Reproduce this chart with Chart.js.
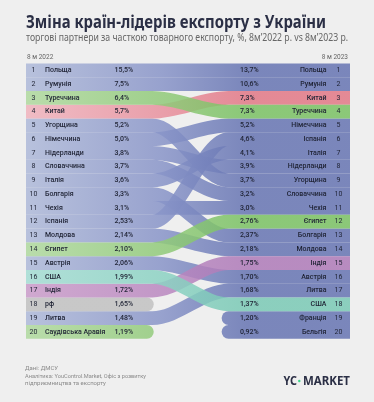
<!DOCTYPE html>
<html>
<head>
<meta charset="utf-8">
<script src="https://cdn.jsdelivr.net/npm/chart.js@4"></script>
<style>
html,body{margin:0;padding:0;background:#efefef;}
#wrap{width:374px;height:402px;}
</style>
</head>
<body>
<div id="wrap"><canvas id="c" width="374" height="402"></canvas></div>
<script>
// ---- data ----
const categories2022 = ['Польща','Румунія','Туреччина','Китай','Угорщина','Німеччина','Нідерланди','Словаччина','Італія','Болгарія','Чехія','Іспанія','Молдова','Єгипет','Австрія','США','Індія','рф','Литва','Саудівська Аравія'];
const values2022 = [15.5,7.5,6.4,5.7,5.2,5.0,3.8,3.7,3.6,3.3,3.1,2.53,2.14,2.10,2.06,1.99,1.72,1.65,1.48,1.19];
const categories2023 = ['Польща','Румунія','Китай','Туреччина','Німеччина','Іспанія','Італія','Нідерланди','Угорщина','Словаччина','Чехія','Єгипет','Болгарія','Молдова','Індія','Австрія','Литва','США','Франція','Бельгія'];
const values2023 = [13.7,10.6,7.3,7.3,5.2,4.6,4.1,3.9,3.7,3.2,3.0,2.76,2.37,2.18,1.75,1.70,1.68,1.37,1.20,0.92];
const periodLabels = ['8 м 2022','8 м 2023'];
const highlightGroups = {'Туреччина':'green','Єгипет':'green','Саудівська Аравія':'green','Китай':'red','США':'teal','Індія':'purple','рф':'grey'};

// ---- styles ----
const palette = {
  blue:   ['rgba(174,185,217,0.85)','rgba(136,148,200,0.85)','rgba(102,116,178,0.85)'],
  green:  ['rgba(176,217,159,0.85)','rgba(145,202,122,0.85)','rgba(122,193,99,0.85)'],
  red:    ['rgba(240,179,189,0.85)','rgba(232,145,158,0.85)','rgba(226,120,134,0.85)'],
  teal:   ['rgba(165,221,212,0.85)','rgba(140,210,195,0.85)','rgba(122,201,181,0.85)'],
  purple: ['rgba(202,156,202,0.85)','rgba(186,136,192,0.85)','rgba(174,122,184,0.85)'],
  grey:   ['rgba(193,193,193,0.85)','rgba(193,193,193,0.85)','rgba(193,193,193,0.85)']
};
const X1 = 0.39, X2 = 0.625, STUB_L = 0.373, STUB_R = 0.625;

function grad(chart, stops){
  const a = chart.chartArea;
  if(!a) return stops[2];
  const g = chart.ctx.createLinearGradient(a.left,0,a.right,0);
  g.addColorStop(0, stops[0]);
  g.addColorStop(0.42, stops[1]);
  g.addColorStop(0.68, stops[2]);
  g.addColorStop(1, stops[2]);
  return g;
}
function fmt(v){ return (v >= 3 ? v.toFixed(1) : v.toFixed(2)).replace('.', ',') + '%'; }

const countries = [...categories2022];
categories2023.forEach(c => { if(!countries.includes(c)) countries.push(c); });

const datasets = countries.map(c => {
  const r22 = categories2022.indexOf(c) + 1;
  const r23 = categories2023.indexOf(c) + 1;
  let data, cap = 'butt';
  if(r22 && r23) data = [{x:0,y:r22},{x:X1,y:r22},{x:X2,y:r23},{x:1,y:r23}];
  else if(r22){ data = [{x:0,y:r22},{x:STUB_L,y:r22}]; cap = 'round'; }
  else { data = [{x:STUB_R,y:r23},{x:1,y:r23}]; cap = 'round'; }
  const grp = highlightGroups[c] || 'blue';
  return {
    label: c, data,
    order: grp === 'blue' ? 2 : 1,
    borderColor: ctx => grad(ctx.chart, palette[grp]),
    borderWidth: ctx => { const y = ctx.chart.scales.y; return y ? Math.abs(y.getPixelForValue(2) - y.getPixelForValue(1)) : 13.7; },
    borderCapStyle: cap,
    cubicInterpolationMode: 'monotone',
    pointRadius: 0, pointHoverRadius: 0,
    fill: false,
    clip: {left:0, right:0, top:10, bottom:10}
  };
});

const bgPlugin = {
  id: 'bg',
  beforeDraw(chart){
    const {ctx, width, height} = chart;
    ctx.save(); ctx.fillStyle = '#efefef'; ctx.fillRect(0,0,width,height); ctx.restore();
  }
};

const textPlugin = {
  id: 'texts',
  afterDatasetsDraw(chart){
    const {ctx, chartArea: a} = chart;
    const ys = chart.scales.y;
    ctx.save();
    // headers
    ctx.textBaseline = 'alphabetic';
    ctx.fillStyle = '#2b2f45';
    ctx.font = 'bold 17px "Noto Sans"';
    ctx.textAlign = 'left';
    ctx.fillText('Зміна країн-лідерів експорту з України', 26, 28, 300);
    ctx.textBaseline = 'middle';
    ctx.fillStyle = '#666';
    ctx.font = '10px "Noto Sans"';
    ctx.fillText('торгові партнери за часткою товарного експорту, %, 8м\u20192022 р. vs 8м\u20192023 р.', 26, 38.5, 322);
    ctx.font = '6.5px Roboto';
    ctx.fillStyle = '#666';
    ctx.fillText(periodLabels[0], a.left + 1, 57);
    ctx.textAlign = 'right';
    ctx.fillText(periodLabels[1], a.right - 2, 57);
    // rows
    ctx.fillStyle = '#1e2233';
    categories2022.forEach((c, i) => {
      const y = ys.getPixelForValue(i + 1);
      ctx.font = '7px Roboto';
      ctx.textAlign = 'center';
      ctx.fillText(String(i + 1), 33.5, y);
      ctx.font = '500 7px Roboto';
      ctx.textAlign = 'left';
      ctx.fillText(c, 45, y);
      ctx.fillText(fmt(values2022[i]), 114.5, y);
    });
    categories2023.forEach((c, i) => {
      const y = ys.getPixelForValue(i + 1);
      ctx.font = '500 7px Roboto';
      ctx.textAlign = 'left';
      ctx.fillText(fmt(values2023[i]), 240, y);
      ctx.textAlign = 'right';
      ctx.fillText(c, 326.5, y);
      ctx.font = '7px Roboto';
      ctx.textAlign = 'center';
      ctx.fillText(String(i + 1), 338.5, y);
    });
    // footer
    ctx.textAlign = 'left';
    ctx.fillStyle = '#8a8a8a';
    ctx.font = '6px Roboto';
    ctx.fillText('Дані: ДМСУ', 25, 368.7);
    ctx.fillText('Аналітика: YouControl.Market, Офіс з розвитку', 25, 376.2, 121);
    ctx.fillText('підприємництва та експорту', 25, 383.8);
    // logo
    ctx.fillStyle = '#2b2f45';
    ctx.font = 'bold 12px "Noto Sans"';
    ctx.textAlign = 'left';
    ctx.fillText('MARKET', 303, 381.5, 47);
    ctx.textAlign = 'right';
    ctx.fillText('YC', 297, 381.5, 13.5);
    ctx.fillStyle = '#3dd68c';
    ctx.beginPath(); ctx.arc(299.3, 381, 1.2, 0, Math.PI*2); ctx.fill();
    ctx.restore();
  }
};

new Chart(document.getElementById('c'), {
  type: 'line',
  data: { datasets },
  options: {
    responsive: false,
    animation: false,
    layout: { padding: { left: 26, right: 24, top: 63.5, bottom: 63.3 } },
    plugins: { legend: { display: false }, tooltip: { enabled: false }, title: { display: false } },
    scales: {
      x: { type: 'linear', min: 0, max: 1, display: false },
      y: { type: 'linear', min: 0.5, max: 20.5, reverse: true, display: false }
    }
  },
  plugins: [bgPlugin, textPlugin]
});
</script>
</body>
</html>
